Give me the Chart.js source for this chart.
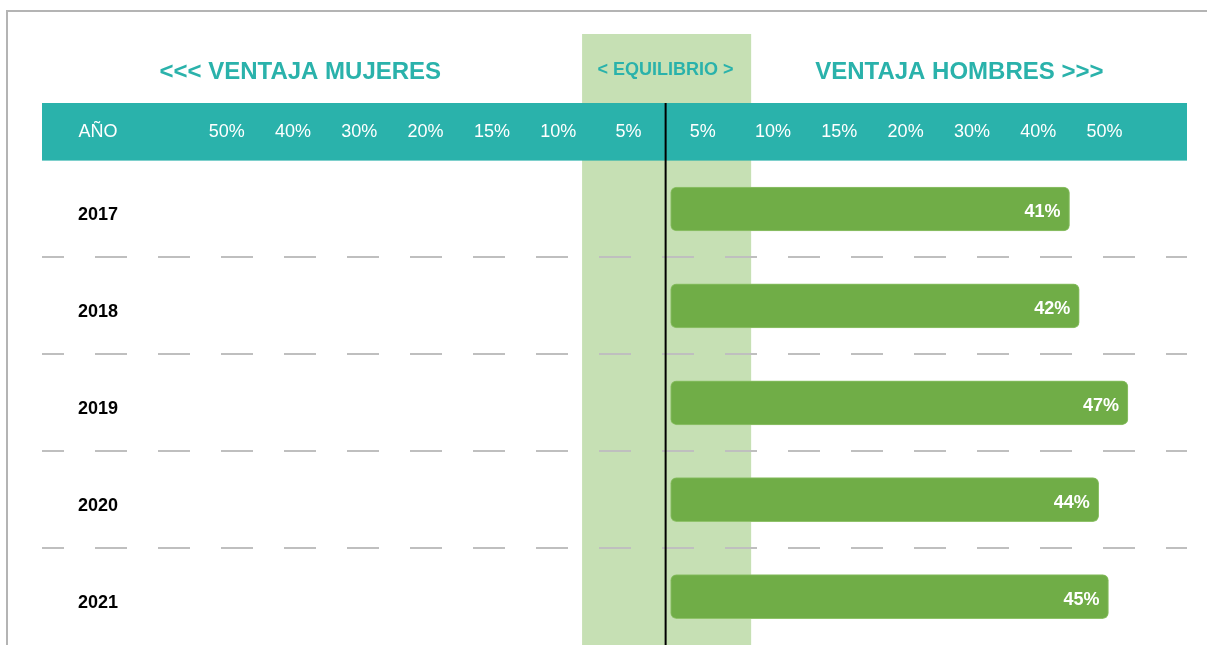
<!DOCTYPE html>
<html>
<head>
<meta charset="utf-8">
<script src="https://cdn.jsdelivr.net/npm/chart.js@4.4.1/dist/chart.umd.min.js"></script>
<style>
  html, body { margin: 0; padding: 0; background: #fff; overflow: hidden; }
  .wrap { position: relative; width: 1207px; height: 645px; }
  .frame { position: absolute; left: 6px; top: 10px; width: 1300px; height: 800px; border: 2px solid #b4b4b4; pointer-events: none; }
  canvas { position: absolute; left: 0; top: 0; }
</style>
</head>
<body>
<div class="wrap">
  <canvas id="brechaChart" width="1207" height="645"></canvas>
  <div class="frame"></div>
</div>
<script>
const years = ["2017", "2018", "2019", "2020", "2021"];
const menAdvantage = [41, 42, 47, 44, 45];
const womenTickLabels = ["50%", "40%", "30%", "20%", "15%", "10%", "5%"];
const menTickLabels = ["5%", "10%", "15%", "20%", "30%", "40%", "50%"];
const yearHeader = "AÑO";

const TEAL = "#2ab2ab";
const FONT = "'Liberation Sans', Arial, sans-serif";

// header columns: one unit = one column of the header band, 0 = equilibrium line
const headerTicks = [{ value: -8.56, label: yearHeader }]
  .concat(womenTickLabels.map((label, i) => ({ value: i === 6 ? -0.56 : -(6.62 - i), label })))
  .concat(menTickLabels.map((label, j) => ({ value: j === 0 ? 0.56 : 0.62 + j, label })));

const decor = {
  id: "decor",
  beforeDraw(chart) {
    const { ctx, scales } = chart;
    const h = scales.xh;
    const bandL = h.getPixelForValue(-1.26);
    const bandR = h.getPixelForValue(1.29);
    ctx.save();
    ctx.fillStyle = "#c6e0b4";
    ctx.fillRect(bandL, 34, bandR - bandL, chart.height - 34);

    ctx.fillStyle = TEAL;
    ctx.textAlign = "center";
    ctx.textBaseline = "alphabetic";
    ctx.font = "bold 24px " + FONT;
    ctx.fillText("<<< VENTAJA MUJERES", h.getPixelForValue(-5.51), 79);
    ctx.fillText("VENTAJA HOMBRES >>>", h.getPixelForValue(4.43), 79);
    ctx.font = "bold 18px " + FONT;
    ctx.fillText("< EQUILIBRIO >", h.getPixelForValue(0), 75);
    ctx.restore();
  },
  afterDatasetsDraw(chart) {
    const { ctx } = chart;
    const meta = chart.getDatasetMeta(0);
    ctx.save();
    ctx.fillStyle = "#ffffff";
    ctx.font = "bold 18px " + FONT;
    ctx.textAlign = "right";
    ctx.textBaseline = "alphabetic";
    meta.data.forEach((bar, i) => {
      ctx.fillText(menAdvantage[i] + "%", bar.x - 9, bar.y + 8);
    });
    ctx.restore();
  },
  afterDraw(chart) {
    const { ctx, scales } = chart;
    const h = scales.xh;
    const x = h.getPixelForValue(0);
    ctx.save();
    ctx.strokeStyle = "#000000";
    ctx.lineWidth = 2;
    ctx.beginPath();
    ctx.moveTo(x, h.top);
    ctx.lineTo(x, chart.height);
    ctx.stroke();
    ctx.restore();
  },
};

new Chart(document.getElementById("brechaChart"), {
  type: "bar",
  data: {
    labels: years,
    datasets: [
      {
        label: "Ventaja hombres",
        data: menAdvantage,
        backgroundColor: "#70ad47",
        borderColor: "#8fc26a",
        borderWidth: 1,
        borderSkipped: false,
        borderRadius: 6,
        barThickness: 44,
      },
    ],
  },
  options: {
    indexAxis: "y",
    responsive: false,
    animation: false,
    layout: {
      padding: { top: 103, left: 42, right: 20, bottom: 0 },
    },
    plugins: {
      legend: { display: false },
      tooltip: { enabled: false },
    },
    scales: {
      x: {
        display: false,
        min: -64.6,
        max: 53.07,
      },
      xh: {
        type: "linear",
        position: "top",
        min: -9.406,
        max: 7.864,
        backgroundColor: TEAL,
        grid: { display: false, drawTicks: false },
        border: { display: false },
        afterBuildTicks(scale) {
          scale.ticks = headerTicks.map((t) => ({ value: t.value }));
        },
        ticks: {
          autoSkip: false,
          maxRotation: 0,
          color: "#ffffff",
          padding: 18,
          font: { size: 18, family: FONT },
          callback: (value, index) => headerTicks[index].label,
        },
      },
      y: {
        // labels sit inside the plot, so the axis takes no room
        afterFit(scale) {
          scale.width = 0;
          scale.paddingTop = 0;
          scale.paddingBottom = 0;
        },
        grid: {
          drawTicks: false,
          lineWidth: 2,
          // only the lines between years, not the outer edges
          color: (ctx) =>
            ctx.type !== "tick" || ctx.index === 0 ? "rgba(0,0,0,0)" : "#bfbfbf",
        },
        border: { display: false, dash: [32, 31], dashOffset: 10 },
        ticks: {
          mirror: true,
          padding: 36,
          labelOffset: 6,
          color: "#000000",
          font: { size: 18, weight: "bold", family: FONT },
        },
      },
    },
  },
  plugins: [decor],
});
</script>
</body>
</html>
